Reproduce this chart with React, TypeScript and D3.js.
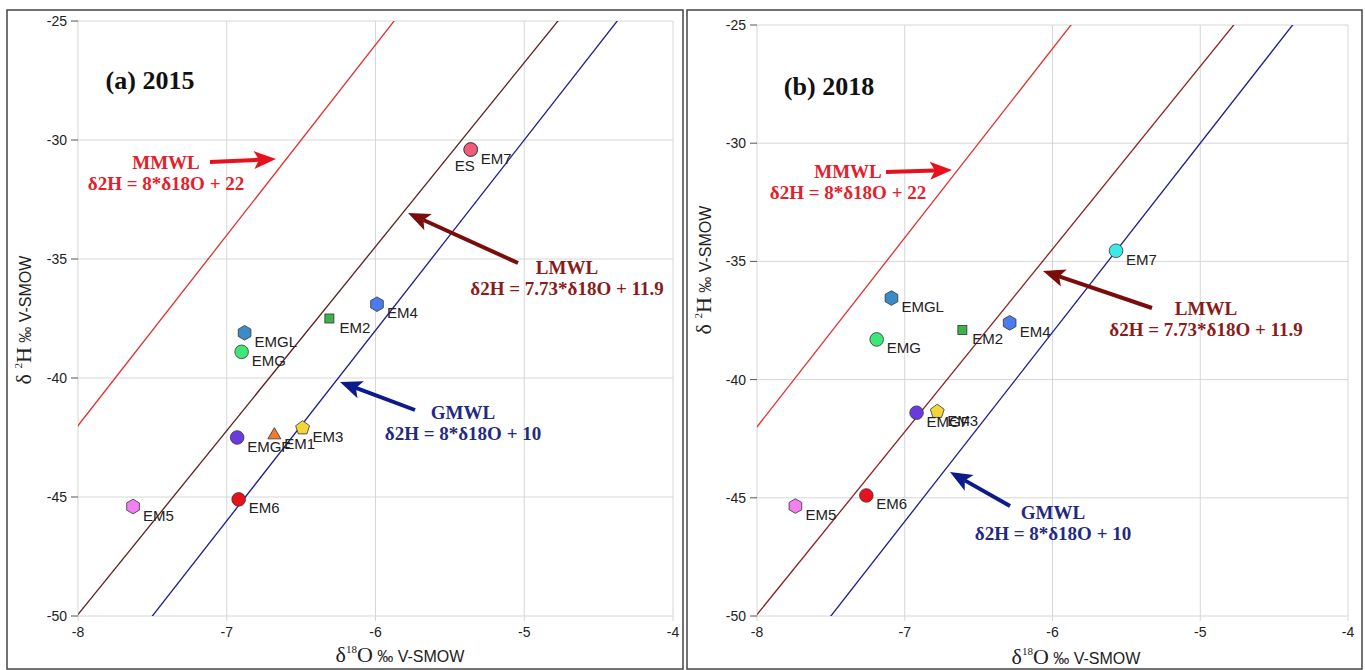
import * as d3 from 'd3';

const xTicks = [-8, -7, -6, -5, -4];
const yTicks = [-25, -30, -35, -40, -45, -50];

// 2015 samples
const samples2015 = ['EM7', 'ES', 'EM4', 'EM2', 'EMGL', 'EMG', 'EMGF', 'EM1', 'EM3', 'EM6', 'EM5'];
const d18O2015 = [-5.36, -5.36, -5.99, -6.31, -6.88, -6.9, -6.93, -6.68, -6.49, -6.92, -7.63];
const d2H2015 = [-30.4, -30.4, -36.9, -37.5, -38.1, -38.9, -42.5, -42.4, -42.1, -45.1, -45.4];

// 2018 samples
const samples2018 = ['EM7', 'EM4', 'EM2', 'EMGL', 'EMG', 'EMGF', 'EM3', 'EM6', 'EM5'];
const d18O2018 = [-5.57, -6.29, -6.61, -7.09, -7.19, -6.92, -6.78, -7.26, -7.74];
const d2H2018 = [-34.55, -37.6, -37.9, -36.55, -38.3, -41.4, -41.35, -44.9, -45.35];

// meteoric water lines: slope, intercept
const lineNames = ['MMWL', 'LMWL', 'GMWL'];
const lineSlopes = [8, 7.73, 8];
const lineIntercepts = [22, 11.9, 10];
const lineEquations = ['δ2H = 8*δ18O + 22', 'δ2H = 7.73*δ18O + 11.9', 'δ2H = 8*δ18O + 10'];

type Shape = 'circle' | 'hex' | 'square' | 'triangle' | 'pentagon';
const markerStyle: Record<string, { shape: Shape; fill: string }> = {
  EM7: { shape: 'circle', fill: '#f25c78' },
  ES: { shape: 'circle', fill: '#f25c78' },
  EM4: { shape: 'hex', fill: '#4a7cf0' },
  EM2: { shape: 'square', fill: '#3cb34a' },
  EMGL: { shape: 'hex', fill: '#3a8cc8' },
  EMG: { shape: 'circle', fill: '#3ee878' },
  EMGF: { shape: 'circle', fill: '#6a3ae0' },
  EM1: { shape: 'triangle', fill: '#f07a30' },
  EM3: { shape: 'pentagon', fill: '#f5d63a' },
  EM6: { shape: 'circle', fill: '#e8101c' },
  EM5: { shape: 'hex', fill: '#f280f0' },
};

const polygon = (n: number, r: number, rot: number) =>
  d3.range(n).map((i) => {
    const a = rot + (i * 2 * Math.PI) / n;
    return [r * Math.cos(a), r * Math.sin(a)].join(',');
  }).join(' ');

function Marker({ shape, fill, x, y }: { shape: Shape; fill: string; x: number; y: number }) {
  const common = { fill, stroke: '#333', strokeWidth: 0.8 };
  const t = `translate(${x},${y})`;
  if (shape === 'circle') return <circle cx={x} cy={y} r={6.8} {...common} />;
  if (shape === 'square') return <rect x={x - 4.5} y={y - 4.5} width={9} height={9} {...common} />;
  if (shape === 'hex') return <polygon transform={t} points={polygon(6, 7.3, -Math.PI / 2)} {...common} />;
  if (shape === 'triangle') return <polygon transform={t} points={polygon(3, 7.5, -Math.PI / 2)} {...common} />;
  return <polygon transform={t} points={polygon(5, 7.3, -Math.PI / 2)} {...common} />;
}

interface Ann {
  cx: number; ty: number; from: [number, number]; to: [number, number];
}

interface PanelProps {
  id: string;
  title: string;
  titlePos: [number, number];
  frame: [number, number, number, number];
  plot: [number, number, number, number];
  names: string[];
  xs: number[];
  ys: number[];
  fills?: Record<string, string>;
  lmwlColor: string;
  anns: Ann[];
  yLabelPos: [number, number];
  xLabelPos: [number, number];
}

const lineColors = ['#e03030', '', '#1c1c8c'];
const textColors = ['#e4202a', '#8b1a1a', '#1f2a80'];
const arrowColors = ['#e8101c', '#7a0c0c', '#0c1a8a'];

function Arrow({ from, to, color }: { from: [number, number]; to: [number, number]; color: string }) {
  const [x1, y1] = from;
  const [x2, y2] = to;
  const ang = Math.atan2(y2 - y1, x2 - x1);
  const hl = 22, hw = 9;
  const bx = x2 - hl * Math.cos(ang), by = y2 - hl * Math.sin(ang);
  const px = -Math.sin(ang) * hw, py = Math.cos(ang) * hw;
  const nx = x2 - (hl - 5) * Math.cos(ang), ny = y2 - (hl - 5) * Math.sin(ang);
  return (
    <g>
      <line x1={x1} y1={y1} x2={nx} y2={ny} stroke={color} strokeWidth={4} />
      <polygon points={`${x2},${y2} ${bx + px},${by + py} ${nx},${ny} ${bx - px},${by - py}`} fill={color} />
    </g>
  );
}

function Panel(p: PanelProps) {
  const [fx0, fy0, fx1, fy1] = p.frame;
  const [px0, py0, px1, py1] = p.plot;
  const x = d3.scaleLinear().domain([-8, -4]).range([px0, px1]);
  const y = d3.scaleLinear().domain([-25, -50]).range([py0, py1]);
  const clipId = `clip-${p.id}`;
  const sans = "'Liberation Sans', Arial, sans-serif";
  const serif = "'Liberation Serif', 'Times New Roman', serif";
  return (
    <g>
      <rect x={fx0} y={fy0} width={fx1 - fx0} height={fy1 - fy0} fill="#fff" stroke="#444" strokeWidth={1.5} />
      <clipPath id={clipId}>
        <rect x={px0} y={py0} width={px1 - px0} height={py1 - py0} />
      </clipPath>
      {/* grid */}
      {xTicks.map((t) => (
        <line key={`gx${t}`} x1={x(t)} x2={x(t)} y1={py0} y2={py1 + 5} stroke="#d6d6d6" />
      ))}
      {yTicks.map((t) => (
        <line key={`gy${t}`} x1={px0} x2={px1} y1={y(t)} y2={y(t)} stroke="#d6d6d6" />
      ))}
      {yTicks.map((t) => (
        <g key={`ty${t}`}>
          <line x1={px0 - 7} x2={px0} y1={y(t)} y2={y(t)} stroke="#555" />
          <text x={px0 - 11} y={y(t) + 5} textAnchor="end" fontFamily={sans} fontSize={14} fill="#222">{t}</text>
        </g>
      ))}
      {xTicks.map((t) => (
        <text key={`tx${t}`} x={x(t)} y={py1 + 21} textAnchor="middle" fontFamily={sans} fontSize={14} fill="#222">{t}</text>
      ))}
      {/* water lines */}
      <g clipPath={`url(#${clipId})`}>
        {lineSlopes.map((s, i) => {
          const b = lineIntercepts[i];
          const xa = -8.5, xb = -3.5;
          return (
            <line key={lineNames[i]} x1={x(xa)} y1={y(s * xa + b)} x2={x(xb)} y2={y(s * xb + b)}
              stroke={i === 1 ? p.lmwlColor : lineColors[i]} strokeWidth={1.3} />
          );
        })}
      </g>
      {/* points */}
      {p.names.map((n, i) => {
        const st = markerStyle[n];
        const fill = (p.fills && p.fills[n]) || st.fill;
        return <Marker key={`m${n}`} shape={st.shape} fill={fill} x={x(p.xs[i])} y={y(p.ys[i])} />;
      })}
      {p.names.map((n, i) => {
        const dx = n === 'ES' ? -16 : 10;
        const dy = n === 'ES' ? 21 : 14;
        return (
          <text key={`l${n}`} x={x(p.xs[i]) + dx} y={y(p.ys[i]) + dy} fontFamily={sans} fontSize={15} fill="#222">{n}</text>
        );
      })}
      {/* annotations */}
      {p.anns.map((a, i) => (
        <g key={`a${i}`}>
          <Arrow from={a.from} to={a.to} color={arrowColors[i]} />
          <text x={a.cx} y={a.ty} textAnchor="middle" fontFamily={serif} fontWeight="bold" fontSize={19} fill={textColors[i]}>{lineNames[i]}</text>
          <text x={a.cx} y={a.ty + 21} textAnchor="middle" fontFamily={serif} fontWeight="bold" fontSize={19} fill={textColors[i]}>{lineEquations[i]}</text>
        </g>
      ))}
      <text x={p.titlePos[0]} y={p.titlePos[1]} textAnchor="middle" fontFamily={serif} fontWeight="bold" fontSize={26} fill="#111">{p.title}</text>
      {/* axis titles */}
      <text x={p.xLabelPos[0]} y={p.xLabelPos[1]} textAnchor="middle" fill="#222">
        <tspan fontFamily={serif} fontSize={22}>δ</tspan>
        <tspan fontFamily={serif} fontSize={11} dy={-9}>18</tspan>
        <tspan fontFamily={serif} fontSize={22} dy={9}>O</tspan>
        <tspan fontFamily={sans} fontSize={16}> ‰ V-SMOW</tspan>
      </text>
      <text transform={`translate(${p.yLabelPos[0]},${p.yLabelPos[1]}) rotate(-90)`} textAnchor="middle" fill="#222">
        <tspan fontFamily={serif} fontSize={22}>δ </tspan>
        <tspan fontFamily={serif} fontSize={11} dy={-9}>2</tspan>
        <tspan fontFamily={serif} fontSize={22} dy={9}>H</tspan>
        <tspan fontFamily={sans} fontSize={16}> ‰ V-SMOW</tspan>
      </text>
    </g>
  );
}

export default function App() {
  return (
    <svg width={1365} height={670} style={{ position: 'absolute', left: 0, top: 0, background: '#fff' }}>
      <Panel
        id="a"
        title="(a) 2015"
        titlePos={[150, 89]}
        frame={[7, 10, 683, 669]}
        plot={[78, 21, 673, 616]}
        names={samples2015}
        xs={d18O2015}
        ys={d2H2015}
        lmwlColor="#5c1f1f"
        anns={[
          { cx: 166, ty: 169, from: [210, 162], to: [276, 159] },
          { cx: 567, ty: 274, from: [518, 263], to: [408, 213] },
          { cx: 463, ty: 419, from: [415, 410], to: [340, 382] },
        ]}
        yLabelPos={[31, 320]}
        xLabelPos={[400, 662]}
      />
      <Panel
        id="b"
        title="(b) 2018"
        titlePos={[829, 95]}
        frame={[687, 10, 1362, 669]}
        plot={[757, 25, 1348, 616]}
        names={samples2018}
        xs={d18O2018}
        ys={d2H2018}
        fills={{ EM7: '#3ee8e8' }}
        lmwlColor="#8b2020"
        anns={[
          { cx: 848, ty: 178, from: [886, 172], to: [952, 170] },
          { cx: 1206, ty: 315, from: [1152, 308], to: [1043, 271] },
          { cx: 1053, ty: 519, from: [1010, 506], to: [950, 472] },
        ]}
        yLabelPos={[711, 270]}
        xLabelPos={[1076, 664]}
      />
    </svg>
  );
}
